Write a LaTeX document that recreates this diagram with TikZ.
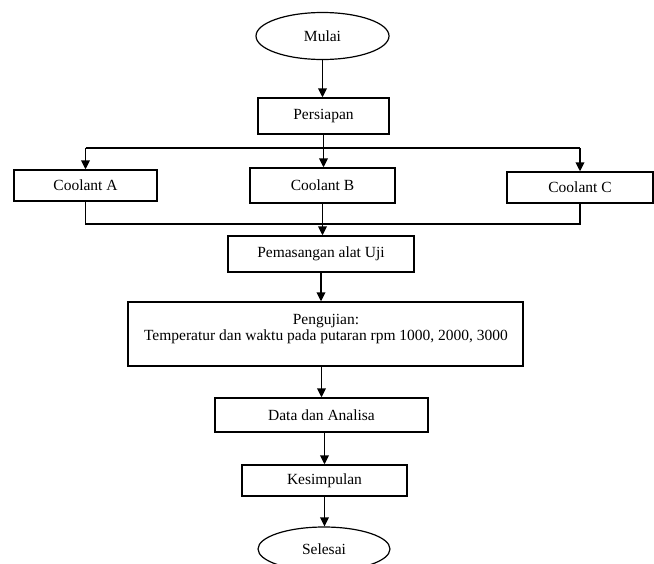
\documentclass[tikz,border=0pt]{standalone}
\usepackage{fontspec}
\setmainfont{Liberation Serif}
\usetikzlibrary{arrows.meta,shapes.geometric}
\begin{document}
\begin{tikzpicture}[x=1pt,y=-1pt,
  txt/.style={font=\fontsize{15.5}{17}\selectfont},
  box/.style={draw,line width=1.3pt,inner sep=0pt,txt},
  term/.style={draw,ellipse,line width=1.2pt,inner sep=0pt,txt},
  arr/.style={line width=1.8pt,-{Triangle[length=9pt,width=8.5pt]}},
  ln/.style={line width=1.4pt}]
\useasboundingbox (0,0) rectangle (654,563);
\fill[white] (0,0) rectangle (654,563);
\clip (0,0) rectangle (654,563);
\node[term,minimum width=133pt,minimum height=47pt] (mulai) at (322.5,36) {Mulai};
\node[box,minimum width=131pt,minimum height=36pt] (pers) at (323.5,116) {Persiapan};
\node[box,minimum width=143pt,minimum height=31pt] (ca) at (85.5,185.5) {Coolant A};
\node[box,minimum width=145pt,minimum height=35pt] (cb) at (322.5,185.5) {Coolant B};
\node[box,minimum width=146pt,minimum height=31pt] (cc) at (580,187.5) {Coolant C};
\node[box,minimum width=186pt,minimum height=36pt] (pem) at (321,254) {Pemasangan alat Uji};
\node[box,minimum width=395pt,minimum height=64pt] (uji) at (325.5,334) {};
\node[txt,align=center,inner sep=0pt] (ujitext) at (326,329) {Pengujian:\\[-1pt]Temperatur dan waktu pada putaran rpm 1000, 2000, 3000};
\node[box,minimum width=213pt,minimum height=34pt] (data) at (321.5,415) {Data dan Analisa};
\node[box,minimum width=165pt,minimum height=31pt] (kes) at (324.5,480.5) {Kesimpulan};
\node[term,minimum width=132pt,minimum height=44pt] (sel) at (324,549) {Selesai};
\coordinate (top) at (322,148);
\coordinate (bot) at (322,224);
\draw[arr] (mulai.south) -- (mulai.south |- pers.north);
\draw[arr] (pers.south) -- (pers.south |- cb.north);
\draw[ln] (ca.north |- top) -- (cc.north |- top);
\draw[arr] (ca.north |- top) -- (ca.north);
\draw[arr] (cc.north |- top) -- (cc.north);
\draw[ln] (ca.south) -- (ca.south |- bot) -- (cc.south |- bot) -- (cc.south);
\draw[arr] (cb.south) -- (cb.south |- pem.north);
\draw[arr] (pem.south) -- (pem.south |- uji.north);
\draw[arr] (uji.south -| data.north) -- (data.north);
\draw[arr] (data.south -| kes.north) -- (kes.north);
\draw[arr] (kes.south) -- (kes.south |- sel.north);
\end{tikzpicture}
\end{document}
